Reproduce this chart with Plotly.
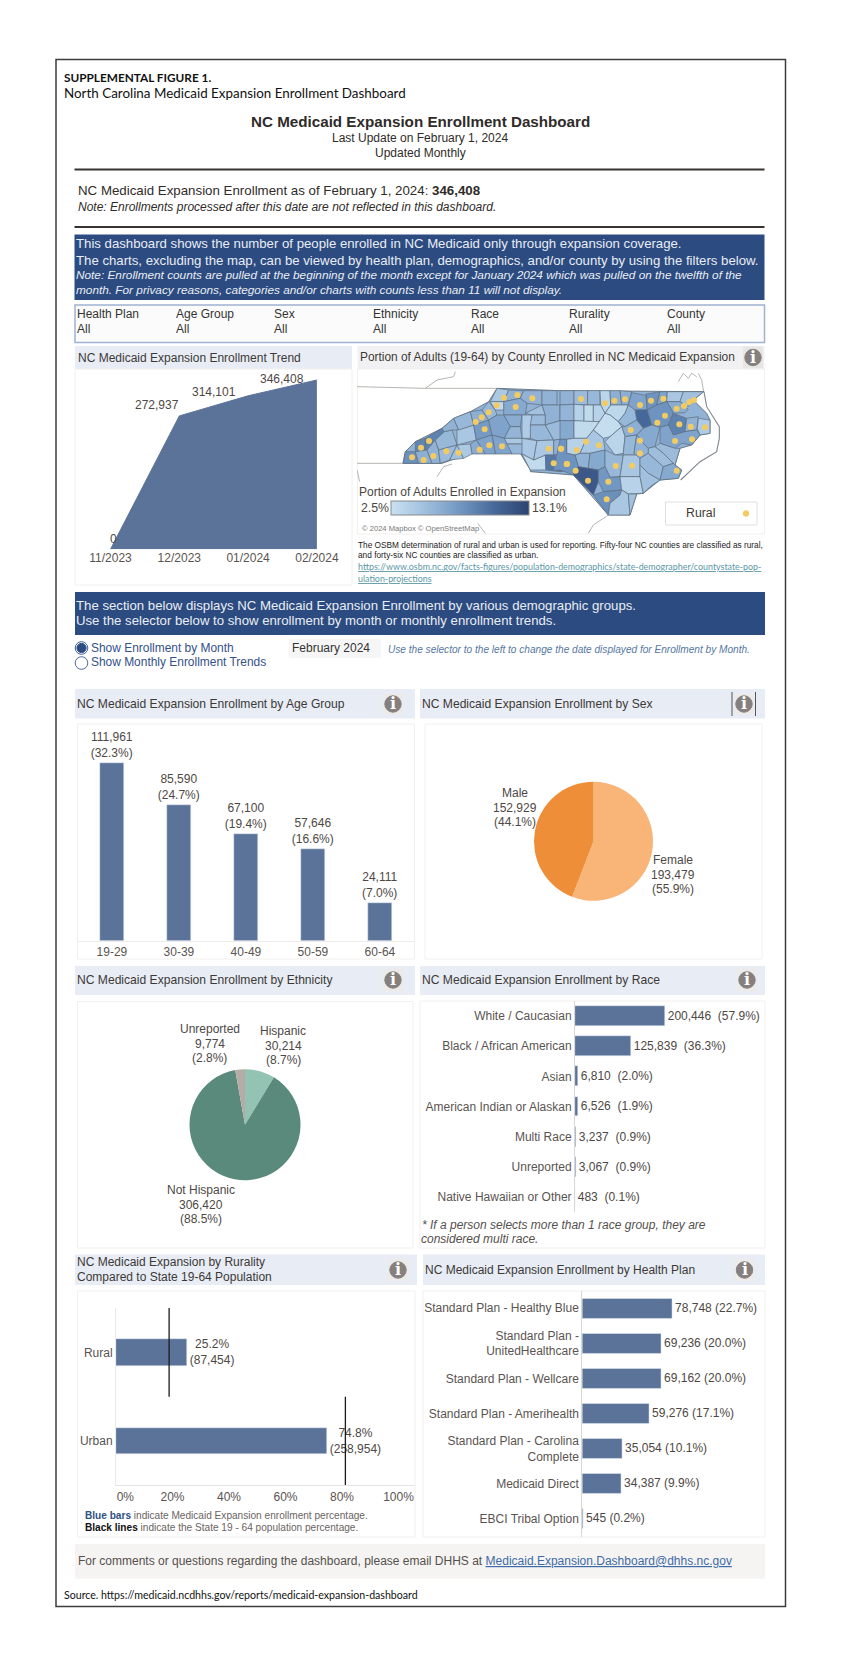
import plotly.graph_objects as go

W, H = 842, 1667
SANS = "Liberation Sans"
HUM = "Lato"
BAR = "#5b7399"
TXT = "#4e4845"
DARK = "#2f2b29"

# ---------- data ----------
trend_months = ["11/2023", "12/2023", "01/2024", "02/2024"]
trend_values = [0, 272937, 314101, 346408]

age_groups = ["19-29", "30-39", "40-49", "50-59", "60-64"]
age_values = [111961, 85590, 67100, 57646, 24111]
age_pct = ["32.3%", "24.7%", "19.4%", "16.6%", "7.0%"]

sex_groups = ["Female", "Male"]
sex_values = [193479, 152929]
sex_pct = ["55.9%", "44.1%"]
sex_colors = ["#f8b577", "#ee8e39"]

eth_groups = ["Hispanic", "Not Hispanic", "Unreported"]
eth_values = [30214, 306420, 9774]
eth_pct = ["8.7%", "88.5%", "2.8%"]
eth_colors = ["#93c3b3", "#5a8a7b", "#b6aca7"]

race_groups = ["White / Caucasian", "Black / African American", "Asian", "American Indian or Alaskan",
               "Multi Race", "Unreported", "Native Hawaiian or Other"]
race_values = [200446, 125839, 6810, 6526, 3237, 3067, 483]
race_pct = ["57.9%", "36.3%", "2.0%", "1.9%", "0.9%", "0.9%", "0.1%"]

rural_groups = ["Rural", "Urban"]
rural_pct = [25.2, 74.8]
rural_counts = [87454, 258954]
state_pct = [18.8, 81.2]
rural_ticks = ["0%", "20%", "40%", "60%", "80%", "100%"]
rural_tick_pos = [3.3, 20, 40, 60, 80, 100]

plan_groups = ["Standard Plan - Healthy Blue", "Standard Plan -<br>UnitedHealthcare", "Standard Plan - Wellcare",
               "Standard Plan - Amerihealth", "Standard Plan - Carolina<br>Complete", "Medicaid Direct",
               "EBCI Tribal Option"]
plan_values = [78748, 69236, 69162, 59276, 35054, 34387, 545]
plan_pct = ["22.7%", "20.0%", "20.0%", "17.1%", "10.1%", "9.9%", "0.2%"]

filter_names = ["Health Plan", "Age Group", "Sex", "Ethnicity", "Race", "Rurality", "County"]

map_min, map_max = 2.5, 13.1
map_scale = [[0, "#c9e1f1"], [0.25, "#a0bfde"], [0.5, "#7197c2"], [0.75, "#47689a"], [1, "#2b4470"]]

# county outlines (schematic), western part then eastern part; last item = enrollment %
west_counties = [
    ([(138,280),(145,245),(175,245),(185,280)], 8.2),
    ([(175,215),(205,205),(205,245),(175,245)], 8.8),
    ([(205,205),(255,175),(262,185),(235,210),(210,240),(205,245)], 9.0),
    ([(175,245),(210,240),(225,280),(185,280)], 6.2),
    ([(210,240),(235,210),(245,240),(250,280),(225,280)], 6.0),
    ([(235,210),(262,185),(285,180),(300,225),(245,240)], 5.6),
    ([(245,240),(285,228),(300,225),(278,270),(250,280)], 5.4),
    ([(300,225),(320,265),(278,270)], 5.0),
    ([(255,175),(290,145),(305,180),(285,180),(262,185)], 6.0),
    ([(300,180),(350,165),(358,210),(300,225)], 4.6),
    ([(290,145),(340,125),(350,165),(305,180)], 5.6),
    ([(350,165),(395,150),(405,195),(358,210)], 7.6),
    ([(340,125),(375,120),(395,150),(350,165)], 6.2),
    ([(375,120),(395,95),(415,120),(420,135),(395,150)], 5.6),
    ([(420,55),(455,60),(440,95),(400,95)], 4.4),
    ([(455,60),(500,62),(490,85),(440,95)], 6.0),
    ([(500,62),(555,62),(555,105),(510,100),(490,85)], 6.0),
    ([(440,95),(490,85),(510,100),(505,135),(440,135),(440,120)], 6.6),
    ([(400,95),(440,95),(440,120),(415,120)], 3.0),
    ([(440,135),(495,135),(490,170),(460,170)], 6.4),
    ([(395,150),(420,135),(440,135),(460,170),(442,205),(405,195)], 7.0),
    ([(505,130),(555,105),(565,135),(525,135)], 5.0),
    ([(555,62),(600,62),(600,105),(555,105)], 6.0),
    ([(495,135),(525,135),(520,205),(495,205)], 4.2),
    ([(460,170),(490,170),(495,205),(442,205)], 5.8),
    ([(442,205),(495,205),(500,222),(442,222)], 4.6),
    ([(442,222),(500,222),(495,252),(465,252)], 5.6),
    ([(405,195),(442,205),(465,252),(415,252)], 7.0),
    ([(358,210),(405,195),(415,252),(385,252)], 7.0),
    ([(340,222),(358,210),(385,252),(345,252)], 6.4),
    ([(300,225),(340,222),(345,252),(320,265)], 4.4),
    ([(495,205),(540,212),(530,270),(495,252)], 4.5),
    ([(495,252),(530,270),(565,255),(567,300),(520,300)], 3.0),
    ([(525,135),(565,135),(565,165),(520,165)], 5.4),
    ([(520,165),(565,165),(590,210),(540,212),(520,205)], 5.6),
    ([(540,212),(590,210),(590,255),(565,255),(530,270)], 4.5),
    ([(590,210),(630,205),(630,250),(590,255)], 6.0),
    ([(565,255),(590,255),(610,280),(610,305),(567,300)], 9.6),
    ([(590,255),(630,250),(630,302),(610,305),(610,280)], 8.6),
    ([(555,105),(609,105),(609,152),(565,165),(565,135)], 6.0),
    ([(565,165),(609,152),(630,205),(590,210)], 5.4),
]
east_counties = [
    ([(0,62),(42,62),(42,103),(0,105)], 6.0),
    ([(42,62),(83,62),(83,105),(42,103)], 5.4),
    ([(83,62),(120,62),(120,105),(83,105)], 5.6),
    ([(120,62),(150,62),(152,105),(135,130),(122,105)], 3.4),
    ([(150,62),(180,62),(185,105),(152,105)], 6.2),
    ([(180,62),(215,65),(205,105),(185,105)], 6.2),
    ([(215,68),(258,76),(262,120),(225,120),(205,105)], 7.0),
    ([(258,72),(300,65),(290,105),(262,120)], 8.0),
    ([(300,65),(322,65),(320,95),(290,105)], 7.0),
    ([(322,65),(370,65),(360,95),(320,95)], 4.6),
    ([(370,65),(431,65),(400,90),(385,110),(360,95)], 5.0),
    ([(320,95),(360,95),(385,118),(375,128),(340,130),(330,110)], 6.4),
    ([(0,105),(42,103),(42,152),(0,152)], 5.8),
    ([(42,103),(72,105),(72,155),(42,152)], 3.7),
    ([(72,105),(100,105),(100,155),(72,155)], 3.0),
    ([(100,105),(122,105),(135,130),(118,155),(100,155)], 3.6),
    ([(152,105),(205,105),(195,130),(175,155),(150,135),(135,130)], 3.3),
    ([(225,120),(262,120),(275,165),(250,175),(230,150)], 10.5),
    ([(205,105),(225,120),(230,150),(195,170),(175,155),(195,130)], 5.6),
    ([(262,120),(290,105),(320,95),(330,110),(340,130),(325,165),(300,172),(275,165)], 8.0),
    ([(0,152),(42,152),(42,205),(20,208),(0,208)], 6.6),
    ([(42,152),(100,155),(118,155),(100,180),(80,205),(42,205)], 3.0),
    ([(118,155),(135,130),(150,135),(175,155),(185,170),(150,200),(130,205),(100,180)], 2.8),
    ([(185,170),(195,170),(230,150),(250,175),(230,195),(195,200)], 6.2),
    ([(150,200),(185,170),(195,200),(190,250),(165,255),(135,215)], 3.5),
    ([(250,175),(275,165),(300,172),(285,230),(265,235),(250,220),(230,195)], 6.6),
    ([(340,130),(380,145),(375,185),(340,195),(325,165)], 9.0),
    ([(380,145),(415,140),(410,180),(375,185)], 6.0),
    ([(415,145),(450,150),(450,190),(420,195),(412,175)], 4.2),
    ([(300,172),(325,165),(340,195),(375,185),(410,180),(420,195),(395,225),(365,220),(345,235),(300,220)], 7.0),
    ([(285,230),(300,220),(345,235),(360,235),(345,285),(340,280),(310,250)], 5.4),
    ([(20,208),(42,205),(80,205),(60,250),(45,255),(20,250)], 3.6),
    ([(80,205),(100,180),(130,205),(135,240),(90,250),(60,250)], 4.6),
    ([(60,250),(90,250),(85,295),(55,290),(45,255)], 6.0),
    ([(90,250),(135,240),(135,290),(115,300),(85,295)], 6.6),
    ([(135,240),(165,255),(190,255),(180,320),(150,322),(135,290)], 5.6),
    ([(190,250),(195,200),(230,195),(222,250),(240,255),(190,255)], 5.6),
    ([(190,255),(240,255),(240,320),(180,320)], 4.6),
    ([(230,195),(250,220),(265,235),(265,250),(240,265),(222,250)], 6.0),
    ([(240,265),(265,250),(310,290),(300,330),(265,310),(240,285)], 5.6),
    ([(265,235),(285,230),(310,250),(340,280),(310,290),(265,250)], 5.2),
    ([(310,290),(340,280),(345,285),(365,300),(355,325),(300,330)], 6.6),
    ([(0,208),(20,208),(20,250),(45,255),(55,290),(40,315),(0,300),(-20,302)], 8.0),
    ([(40,315),(55,290),(85,295),(115,300),(115,335),(100,375)], 11.6),
    ([(115,300),(135,290),(150,322),(180,320),(185,360),(130,365),(115,335)], 7.8),
    ([(100,375),(130,365),(185,360),(180,375),(150,400),(145,435)], 8.2),
    ([(180,320),(240,320),(250,370),(205,372),(185,360)], 3.6),
    ([(150,400),(180,375),(185,360),(205,372),(210,435),(145,435)], 4.6),
    ([(205,372),(230,372),(210,435)], 5.0),
    ([(240,320),(240,285),(265,310),(300,330),(270,350),(250,370)], 5.0),
]
mainland_outline_west = [(138,280),(145,245),(175,215),(255,175),(290,145),(340,125),(395,95),(420,55),(609,62)]
mainland_outline_east = [(431,65),(400,90),(440,130),(450,150),(450,190),(420,195),(395,225),(360,235),(345,285),(365,300),
                         (355,325),(300,330),(250,370),(230,372),(210,435),(145,435),(40,315),(-89,305)]
mainland_outline_south = [(520,300),(490,250),(340,250),(255,280)]
rural_dots_west = [(165,262),(192,233),(216,213),(200,270),(229,258),(268,244),(305,248),(368,239),(397,226),(435,229),(383,178),
                   (356,156),(374,142),(395,127),(419,106),(441,83),(481,75),(526,85),(476,111),(575,236),(612,236),(590,280),(630,282)]
rural_dots_east = [(63,87),(135,100),(163,92),(195,88),(240,105),(273,92),(310,86),(350,116),(372,108),(388,96),(402,90),(315,137),
                   (292,158),(358,163),(392,170),(435,172),(212,180),(345,213),(396,208),(240,212),(240,250),(117,226),(78,215),(50,240),
                   (3,236),(20,282),(47,302),(84,332),(145,335),(140,388),(167,288),(216,287),(350,302)]
outer_banks = [(432,65),(440,110),(478,170),(478,205),(470,245),(420,275),(362,330)]
context_lines_west = [[(0,50),(205,55),(420,55)], [(205,55),(240,30),(290,20),(295,5)], [(0,280),(138,280)],
                      [(0,300),(8,335)], [(240,320),(260,290),(285,282)], [(362,460),(385,490)]]
context_lines_east = [[(431,65),(425,30),(415,10)], [(355,35),(370,10),(385,25),(395,10),(410,20)], [(145,435),(100,465),(85,490)]]
EAST_SHIFT = 609


def hex2rgb(h):
    return tuple(int(h[i:i + 2], 16) for i in (1, 3, 5))


def map_color(v):
    t = (v - map_min) / (map_max - map_min)
    for (a, ca), (b, cb) in zip(map_scale, map_scale[1:]):
        if t <= b:
            f = (t - a) / (b - a)
            A, B = hex2rgb(ca), hex2rgb(cb)
            return "rgb(%d,%d,%d)" % tuple(round(A[i] + (B[i] - A[i]) * f) for i in range(3))
    return map_scale[-1][1]


def px(x):
    return x / W


def py(y):
    return 1 - y / H


fig = go.Figure()
shapes, ann = [], []


def rect(x0, y0, x1, y1, fill="rgba(0,0,0,0)", line=None, lw=1):
    shapes.append(dict(type="rect", xref="paper", yref="paper", x0=px(x0), x1=px(x1), y0=py(y0), y1=py(y1),
                       fillcolor=fill, line=dict(color=line or "rgba(0,0,0,0)", width=lw if line else 0), layer="below"))


def hline(x0, x1, y, color, lw):
    shapes.append(dict(type="line", xref="paper", yref="paper", x0=px(x0), x1=px(x1), y0=py(y), y1=py(y),
                       line=dict(color=color, width=lw), layer="below"))


def vline(x, y0, y1, color, lw):
    shapes.append(dict(type="line", xref="paper", yref="paper", x0=px(x), x1=px(x), y0=py(y0), y1=py(y1),
                       line=dict(color=color, width=lw), layer="above"))


def circle(cx, cy, r, fill, line=None, lw=1):
    shapes.append(dict(type="circle", xref="paper", yref="paper", x0=px(cx - r), x1=px(cx + r), y0=py(cy - r), y1=py(cy + r),
                       fillcolor=fill, line=dict(color=line or fill, width=lw), layer="above"))


def text(x, y, s, size=12, color=TXT, anchor="left", family=SANS):
    ann.append(dict(xref="paper", yref="paper", x=px(x), y=py(y), text=s, showarrow=False, xanchor=anchor, yanchor="middle",
                    align=anchor, font=dict(size=size, color=color, family=family), borderpad=0, borderwidth=0))


def info(cx, cy, bg="#ecebea"):
    rect(cx - 10, cy - 11, cx + 10, cy + 11, fill=bg)
    circle(cx, cy, 8.2, "#85807d")
    text(cx, cy - 0.5, "<b>i</b>", 16, "#ffffff", "center", "DejaVu Serif")


# ---------- frame and headings ----------
rect(56, 59.5, 785.5, 1606.5, fill="#ffffff", line="#3c3c3c", lw=1.5)
text(64, 77, "<b>SUPPLEMENTAL FIGURE 1.</b>", 11.8, "#111111", family=HUM)
text(64, 93, "North Carolina Medicaid Expansion Enrollment Dashboard", 13.4, "#111111", family=HUM)
text(420, 122, "<b>NC Medicaid Expansion Enrollment Dashboard</b>", 15.2, DARK, "center")
text(420, 138, "Last Update on February 1, 2024", 12, DARK, "center")
text(420, 153, "Updated Monthly", 12, DARK, "center")
hline(74.5, 764.5, 169.5, "#3a3230", 2)
text(77.5, 191, "NC Medicaid Expansion Enrollment as of February 1, 2024: <b>346,408</b>", 13.3, DARK)
text(77.5, 207, "<i>Note: Enrollments processed after this date are not reflected in this dashboard.</i>", 12, DARK)
hline(74.5, 764.5, 227, "#3a3230", 2)

rect(74.5, 234.5, 764.5, 300, fill="#2c4b80")
text(75.5, 244, "This dashboard shows the number of people enrolled in NC Medicaid only through expansion coverage.", 13.2, "#e9edf4")
text(75.5, 260, "The charts, excluding the map, can be viewed by health plan, demographics, and/or county by using the filters below.", 13.2, "#e9edf4")
text(75.5, 275, "<i>Note: Enrollment counts are pulled at the beginning of the month except for January 2024 which was pulled on the twelfth of the</i>", 11.8, "#e9edf4")
text(75.5, 290, "<i>month. For privacy reasons, categories and/or charts with counts less than 11 will not display.</i>", 11.8, "#e9edf4")

rect(75, 305, 764.5, 342.5, fill="#fbfbfb", line="#9fb3d1", lw=1.5)
for nm, x in zip(filter_names, [77, 175.5, 274, 372.5, 470.5, 568.5, 666.5]):
    text(x, 314, nm, 12, "#333333")
    text(x, 329, "All", 12, "#333333")

# ---------- panel frames ----------
HDR = "#e7ecf5"
PANEL_LINE = "#f2f0ee"
rect(75, 346, 352, 369, fill=HDR)
text(78, 358, "NC Medicaid Expansion Enrollment Trend", 12, "#3d3936")
rect(75, 369, 352, 585, fill="#ffffff", line=PANEL_LINE)
rect(357.5, 346, 764.5, 369, fill="#f1f1f3")
text(360, 357, "Portion of Adults (19-64) by County Enrolled in NC Medicaid Expansion", 11.9, "#3d3936")
info(753, 357.5, "#e8e6e4")
rect(357.5, 369, 764.5, 534, fill="#ffffff", line=PANEL_LINE)

rect(75, 592, 765, 635, fill="#2c4b80")
text(75.5, 605, "The section below displays NC Medicaid Expansion Enrollment by various demographic groups.", 13.2, "#e9edf4")
text(75.5, 621, "Use the selector below to show enrollment by month or monthly enrollment trends.", 13.2, "#e9edf4")

circle(81.5, 648, 6.3, "#ffffff", "#3d5f96", 1)
circle(81.5, 648, 4.6, "#2c4b80")
circle(81.5, 663, 6.3, "#ffffff", "#4d6c9e", 1)
text(90.5, 647.5, "Show Enrollment by Month", 11.95, "#34518a")
text(90.5, 662, "Show Monthly Enrollment Trends", 11.95, "#34518a")
rect(289, 639, 381, 658, fill="#f6f6f6")
text(292, 647.5, "February 2024", 12, "#333333")
text(388, 649.5, "<i>Use the selector to the left to change the date displayed for Enrollment by Month.</i>", 10.1, "#56779f")

rect(75, 689, 415, 718.5, fill=HDR)
text(76.5, 703.5, "NC Medicaid Expansion Enrollment by Age Group", 12.1, "#3d3936")
info(393, 704)
rect(420, 689, 765, 718.5, fill=HDR)
text(421.5, 703.5, "NC Medicaid Expansion Enrollment by Sex", 12.1, "#3d3936")
info(744, 704)
vline(732, 692, 716, "#555555", 1)
vline(755.5, 692, 716, "#555555", 1)
rect(77.5, 724, 414.5, 959, fill="#ffffff", line=PANEL_LINE)
rect(425, 724, 762, 959, fill="#ffffff", line=PANEL_LINE)

rect(75, 966, 415, 995, fill=HDR)
text(76.5, 979.5, "NC Medicaid Expansion Enrollment by Ethnicity", 12.1, "#3d3936")
info(393, 980)
rect(420, 966, 765, 995, fill=HDR)
text(421.5, 979.5, "NC Medicaid Expansion Enrollment by Race", 12.1, "#3d3936")
info(747, 980)
rect(77.5, 1001.5, 413, 1248, fill="#ffffff", line=PANEL_LINE)
rect(420, 1001, 765, 1248, fill="#ffffff", line=PANEL_LINE)
text(421.5, 1225, "<i>* If a person selects more than 1 race group, they are</i>", 12, "#55504d")
text(421.5, 1239, "<i>considered multi race.</i>", 12, "#55504d")

rect(75, 1254.5, 417, 1285, fill=HDR)
text(76.5, 1262, "NC Medicaid Expansion by Rurality", 12, "#3d3936")
text(76.5, 1276.5, "Compared to State 19-64 Population", 12, "#3d3936")
info(398, 1270)
rect(423, 1254.5, 765, 1285, fill=HDR)
text(424.5, 1269.5, "NC Medicaid Expansion Enrollment by Health Plan", 12, "#3d3936")
info(744.5, 1270)
rect(77.5, 1291, 415, 1537, fill="#ffffff", line=PANEL_LINE)
rect(423, 1291, 765, 1537, fill="#ffffff", line=PANEL_LINE)
text(84.5, 1515.5, "<b><span style='color:#2e5083'>Blue bars</span></b> indicate Medicaid Expansion enrollment percentage.", 10.1, "#6a6461")
text(84.5, 1527.5, "<b><span style='color:#111111'>Black lines</span></b> indicate the State 19 - 64 population percentage.", 10.1, "#6a6461")

rect(75, 1544, 765, 1578.5, fill="#f6f4f2")
text(77.5, 1560.5, "For comments or questions regarding the dashboard, please email DHHS at "
     "<span style='color:#3d6ba8'><u>Medicaid.Expansion.Dashboard@dhhs.nc.gov</u></span>", 12, "#55504d")
text(64, 1595, "Source. https://medicaid.ncdhhs.gov/reports/medicaid-expansion-dashboard", 10.6, "#111111", family=HUM)

# ---------- axes ----------
layout_axes = {}


def set_axes(i, dx, dy, rx, ry, xopt=None, yopt=None):
    base = dict(showgrid=False, zeroline=False, showticklabels=False, ticks="", showline=False, fixedrange=True)
    xa = dict(base, domain=[px(dx[0]), px(dx[1])], range=rx, anchor=f"y{i}")
    ya = dict(base, domain=[py(dy[1]), py(dy[0])], range=ry, anchor=f"x{i}")
    xa.update(xopt or {})
    ya.update(yopt or {})
    layout_axes[f"xaxis{i}"] = xa
    layout_axes[f"yaxis{i}"] = ya


TICKF = dict(family=SANS, size=12, color="#5a5451")
BARTEXT = dict(family=SANS, size=12, color=TXT)

# Trend
step = 68.8
top = max(trend_values)
set_axes(1, (75, 352), (369, 549.3),
         [(75 - 110.5) / step, (352 - 110.5) / step], [0, top * (549.3 - 369) / (549.3 - 380)],
         xopt=dict(showticklabels=True, tickvals=list(range(4)), ticktext=trend_months, tickfont=TICKF))
fig.add_trace(go.Scatter(x=list(range(4)), y=trend_values, mode="lines", fill="tozeroy", fillcolor=BAR,
                         line=dict(color=BAR, width=1), hoverinfo="skip", xaxis="x1", yaxis="y1", showlegend=False))
for i, v, dx, dy in zip(range(4), trend_values, [3, -22, -34, -35], [-10, -11, -4, -1]):
    ann.append(dict(xref="x1", yref="y1", x=i, y=v, text=f"{v:,}", showarrow=False, xshift=dx, yshift=-dy,
                    font=dict(family=SANS, size=12, color=TXT)))

# Age
step = 67
set_axes(2, (78, 414.5), (724, 940.7),
         [(78 - 111.9) / step, (414.5 - 111.9) / step], [0, max(age_values) * 216.7 / 177.4],
         xopt=dict(showticklabels=True, tickvals=list(range(5)), ticktext=age_groups, tickfont=TICKF,
                   showline=True, linecolor="#eeecea"))
fig.add_trace(go.Bar(x=list(range(5)), y=age_values, width=0.363, marker=dict(color=BAR),
                     text=[f"{v:,}<br>({p})" for v, p in zip(age_values, age_pct)], textposition="outside", cliponaxis=False,
                     constraintext="none", textangle=0, textfont=BARTEXT, xaxis="x2", yaxis="y2", showlegend=False, hoverinfo="skip"))

# Race
set_axes(3, (575, 765), (1001, 1212),
         [0, max(race_values) * 190 / 89.5], [6.5, -0.5],
         xopt=dict(),
         yopt=dict(showticklabels=True, tickvals=list(range(7)), ticktext=race_groups, tickfont=TICKF,
                   showline=True, linecolor="#d9d7d5", ticklen=0))
fig.add_trace(go.Bar(y=list(range(7)), x=race_values, width=0.66, orientation="h", marker=dict(color=BAR),
                     text=[f"{v:,}\u00a0\u00a0({p})" for v, p in zip(race_values, race_pct)], textposition="outside", cliponaxis=False,
                     constraintext="none", textangle=0, textfont=BARTEXT, xaxis="x3", yaxis="y3", showlegend=False, hoverinfo="skip"))

# Health plan
set_axes(4, (582.3, 765), (1290.7, 1536.5),
         [0, max(plan_values) * 182.7 / 89.6], [6.5, -0.5],
         yopt=dict(showticklabels=True, tickvals=list(range(7)), ticktext=plan_groups, tickfont=TICKF,
                   showline=True, linecolor="#d9d7d5", ticklen=0))
fig.add_trace(go.Bar(y=list(range(7)), x=plan_values, width=0.57, orientation="h", marker=dict(color=BAR),
                     text=[f"{v:,} ({p})" for v, p in zip(plan_values, plan_pct)], textposition="outside", cliponaxis=False,
                     constraintext="none", textangle=0, textfont=BARTEXT, xaxis="x4", yaxis="y4", showlegend=False, hoverinfo="skip"))

# Rurality
set_axes(5, (116, 415), (1308, 1485.3),
         [0, 299 / 2.825], [2, 0],
         xopt=dict(showticklabels=True, tickvals=rural_tick_pos, ticktext=rural_ticks, tickfont=TICKF,
                   showline=True, linecolor="#e6e4e2"),
         yopt=dict(showticklabels=True, tickvals=[0.5, 1.5], ticktext=rural_groups, tickfont=TICKF,
                   showline=True, linecolor="#ece9e7", ticklen=0))
fig.add_trace(go.Bar(y=[0.5, 1.5], x=rural_pct, width=0.3, orientation="h", marker=dict(color=BAR),
                     text=[f"{p}%<br>({c:,})" for p, c in zip(rural_pct, rural_counts)], textposition="outside", cliponaxis=False,
                     constraintext="none", textangle=0, textfont=BARTEXT, xaxis="x5", yaxis="y5", showlegend=False, hoverinfo="skip"))
for i, s in enumerate(state_pct):
    fig.add_trace(go.Scatter(x=[s, s], y=[i, i + 1], mode="lines", line=dict(color="#1e1a18", width=1.3),
                             xaxis="x5", yaxis="y5", showlegend=False, hoverinfo="skip"))

# Map
set_axes(6, (357, 764), (370, 535), [0, 1221], [495, 0])


def poly(points, fill, line="#5f6e7e", lw=0.7):
    fig.add_trace(go.Scatter(x=[p[0] for p in points] + [points[0][0]], y=[p[1] for p in points] + [points[0][1]], mode="lines",
                             fill="toself", fillcolor=fill, line=dict(color=line, width=lw), xaxis="x6", yaxis="y6",
                             showlegend=False, hoverinfo="skip"))


def shift(points):
    return [(a + EAST_SHIFT, b) for a, b in points]


for seg, off in [(context_lines_west, 0), (context_lines_east, EAST_SHIFT)]:
    for line in seg:
        fig.add_trace(go.Scatter(x=[p[0] + off for p in line], y=[p[1] for p in line], mode="lines",
                                 line=dict(color="#b8b5b2", width=1), xaxis="x6", yaxis="y6", showlegend=False, hoverinfo="skip"))
outline = mainland_outline_west + shift(mainland_outline_east) + mainland_outline_south
poly(outline, map_color(6), "#5f6e7e", 0.9)
for pts, v in west_counties:
    poly(pts, map_color(v))
for pts, v in east_counties:
    poly(shift(pts), map_color(v))
banks = shift(outer_banks)
fig.add_trace(go.Scatter(x=[p[0] for p in banks], y=[p[1] for p in banks], mode="lines", line=dict(color="#7d8690", width=1.1),
                         xaxis="x6", yaxis="y6", showlegend=False, hoverinfo="skip"))
dots = rural_dots_west + shift(rural_dots_east)
fig.add_trace(go.Scatter(x=[p[0] for p in dots], y=[p[1] for p in dots], mode="markers",
                         marker=dict(color="#f3cb63", size=6), xaxis="x6", yaxis="y6", showlegend=False, hoverinfo="skip"))
# colour legend through the library's colourbar
all_vals = [v for _, v in west_counties + east_counties]
fig.add_trace(go.Scatter(x=[dots[0][0]] * len(all_vals), y=[dots[0][1]] * len(all_vals), mode="markers", xaxis="x6", yaxis="y6",
                         showlegend=False, hoverinfo="skip", opacity=0,
                         marker=dict(size=1, color=all_vals, cmin=map_min, cmax=map_max, colorscale=map_scale, showscale=True,
                                     colorbar=dict(orientation="h", x=px(391), xanchor="left", y=py(501), yanchor="top",
                                                   lenmode="pixels", len=138, thicknessmode="pixels", thickness=14,
                                                   xpad=0, ypad=0, showticklabels=False, ticks="", outlinewidth=1,
                                                   outlinecolor="#8a8a8a", borderwidth=0))))
text(359, 491.5, "Portion of Adults Enrolled in Expansion", 12, "#4a4542")
text(375, 508, "2.5%", 12.3, "#4a4542", "center")
text(549, 508, "13.1%", 12.3, "#4a4542", "center")
text(362, 528, "© 2024 Mapbox © OpenStreetMap", 7.6, "#777777")
shapes.append(dict(type="rect", xref="paper", yref="paper", x0=px(665.5), x1=px(757), y0=py(502), y1=py(525),
                   fillcolor="#ffffff", line=dict(color="#e2e0de", width=1), layer="above"))
text(700, 513, "Rural", 12.3, "#3d3936", "center")
circle(746, 513.5, 2.8, "#f3cb63")
text(357.5, 545, "The OSBM determination of rural and urban is used for reporting. Fifty-four NC counties are classified as rural,", 8.3, "#1c1c1c")
text(357.5, 555, "and forty-six NC counties are classified as urban.", 8.3, "#1c1c1c")
text(357.5, 566.5, "<u>https://www.osbm.nc.gov/facts-figures/population-demographics/state-demographer/countystate-pop-</u>", 8.9, "#5b97a6", family=HUM)
text(357.5, 578.5, "<u>ulation-projections</u>", 8.9, "#5b97a6", family=HUM)

# Pies


def pie(labels, values, colors, cx, cy, r):
    fig.add_trace(go.Pie(labels=labels, values=values, sort=False, direction="clockwise", rotation=0, textinfo="none",
                         marker=dict(colors=colors, line=dict(width=0)), showlegend=False, hoverinfo="skip",
                         domain=dict(x=[px(cx - r), px(cx + r)], y=[py(cy + r), py(cy - r)])))


pie(sex_groups, sex_values, sex_colors, 593.5, 841.3, 59.5)
pie(eth_groups, eth_values, eth_colors, 245, 1124.7, 55.5)


def pie_label(cx, ys, name, v, p):
    text(cx, ys[0], name, 12, TXT, "center")
    text(cx, ys[1], f"{v:,}", 12, TXT, "center")
    text(cx, ys[2], f"({p})", 12, TXT, "center")


pie_label(514.5, (792.5, 807.5, 822), sex_groups[1], sex_values[1], sex_pct[1])
pie_label(673, (860, 875, 889), sex_groups[0], sex_values[0], sex_pct[0])
pie_label(283, (1031, 1045.5, 1060), eth_groups[0], eth_values[0], eth_pct[0])
pie_label(200.5, (1189.5, 1204.5, 1218.5), eth_groups[1], eth_values[1], eth_pct[1])
pie_label(209.5, (1028.5, 1043.5, 1058), eth_groups[2], eth_values[2], eth_pct[2])

fig.update_layout(width=W, height=H, margin=dict(l=0, r=0, t=0, b=0), paper_bgcolor="#ffffff", plot_bgcolor="rgba(0,0,0,0)",
                  shapes=shapes, annotations=ann, bargap=0, font=dict(family=SANS), **layout_axes)
fig.write_html("out.html", config=dict(displayModeBar=False),
               post_script="document.body.style.margin='0';document.body.style.background='#fff';")
